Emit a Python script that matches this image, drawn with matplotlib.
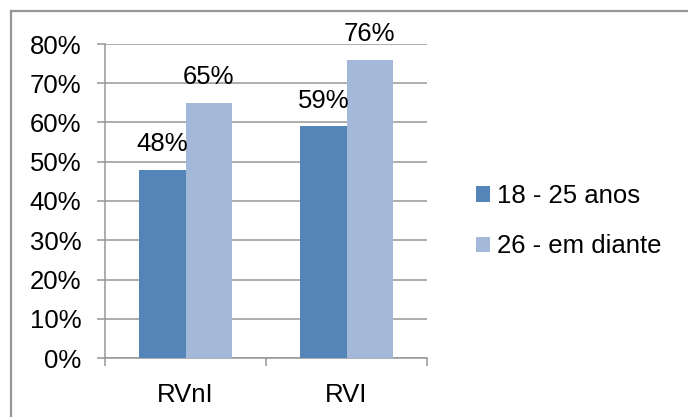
import numpy as np
import matplotlib
matplotlib.use("Agg")
import matplotlib.pyplot as plt
from matplotlib.lines import Line2D
from matplotlib.patches import Patch

plt.rcParams['font.family'] = ['Liberation Sans', 'DejaVu Sans']

categories = ['RVnI', 'RVI']
series_names = ['18 - 25 anos', '26 - em diante']
young = [48, 59]
older = [65, 76]
colors = ['#5585B8', '#A4B8D9']
grid_gray = '#979797'

W, H = 688, 417
fig = plt.figure(figsize=(W / 100, H / 100), dpi=100)

# chart area frame: only its top and left edges are inside the canvas
fx, fy = 10.5 / W, 1 - 10.5 / H
fig.lines.append(Line2D([fx, 1.05], [fy, fy], transform=fig.transFigure,
                        color=grid_gray, linewidth=1.6))
fig.lines.append(Line2D([fx, fx], [fy, -0.05], transform=fig.transFigure,
                        color=grid_gray, linewidth=1.6))

ax = fig.add_axes([105 / W, 1 - 358 / H, (427 - 105) / W, (358 - 44) / H])

x = np.arange(len(categories))
w = 0.286
b1 = ax.bar(x - w / 2, young, w, color=colors[0], zorder=3)
b2 = ax.bar(x + w / 2, older, w, color=colors[1], zorder=3)

for bars, vals in ((b1, young), (b2, older)):
    for rect, v in zip(bars, vals):
        ax.annotate(f'{v}%', (rect.get_x() + rect.get_width() / 2, v),
                    xytext=(0, 10), textcoords='offset points',
                    ha='center', va='bottom', fontsize=18.5)

ax.set_xlim(-0.5, 1.5)
ax.set_ylim(0, 80)
ax.set_yticks(range(0, 81, 10))
ax.set_yticklabels([f'{t}%' for t in range(0, 81, 10)])
ax.yaxis.grid(True, color=grid_gray, linewidth=1.1, zorder=0)

ax.set_xticks([-0.5, 0.5, 1.5])
ax.set_xticklabels([])
ax.set_xticks(x, minor=True)
ax.set_xticklabels(categories, minor=True)

ax.tick_params(axis='y', length=6, width=1.1, color=grid_gray, pad=11,
               labelsize=18.5)
ax.tick_params(axis='x', which='major', length=6, width=1.1, color=grid_gray)
ax.tick_params(axis='x', which='minor', length=0, pad=18, labelsize=18.5)

for side in ('top', 'right'):
    ax.spines[side].set_visible(False)
for side in ('left', 'bottom'):
    ax.spines[side].set_color(grid_gray)
    ax.spines[side].set_linewidth(1.1)

handles = [Patch(facecolor=c, edgecolor='none') for c in colors]
fig.legend(handles, series_names, loc='upper left',
           bbox_to_anchor=(476 / W, 1 - 184 / H), frameon=False,
           fontsize=18.5, handlelength=0.55, handleheight=0.55,
           handletextpad=0.27, labelspacing=1.03, borderpad=0,
           borderaxespad=0)

fig.savefig('out.png', dpi=100)
